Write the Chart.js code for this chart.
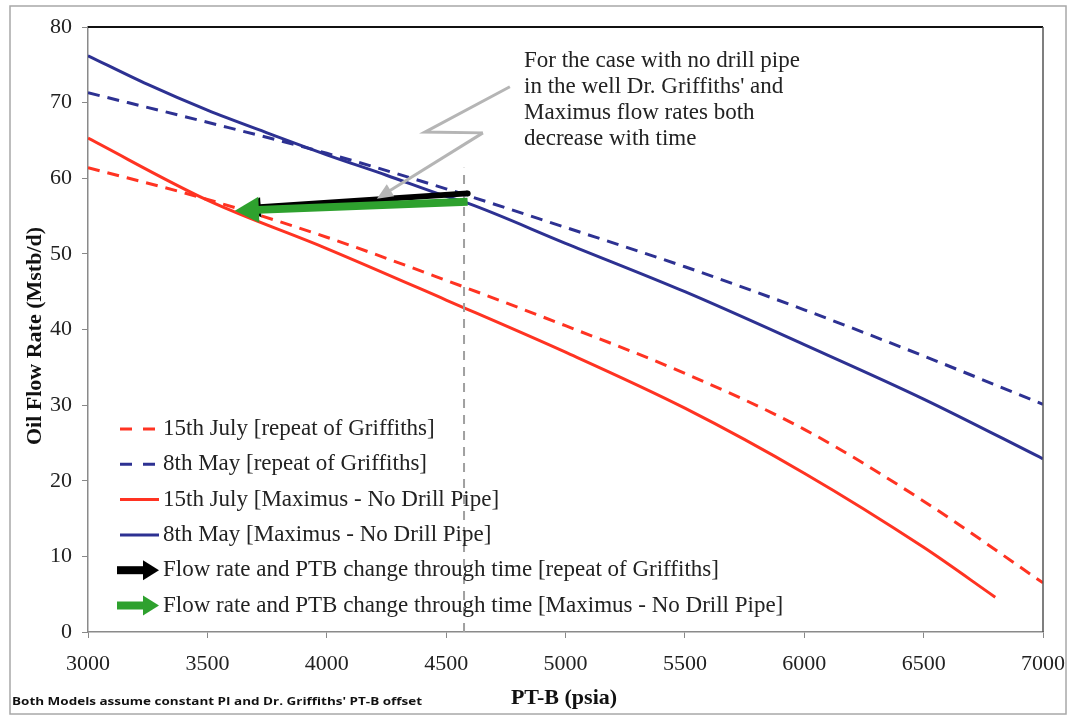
<!DOCTYPE html>
<html><head><meta charset="utf-8">
<script src="https://cdn.jsdelivr.net/npm/chart.js@4/dist/chart.umd.min.js"></script>
<style>html,body{margin:0;padding:0;background:#fff;}#wrap{width:1072px;height:718px;}</style>
</head><body><div id="wrap"><canvas id="c" width="1072" height="718"></canvas></div>
<script>
// ---- data (PT-B psia vs oil flow rate Mstb/d) ----
const xTicks = [3000, 3500, 4000, 4500, 5000, 5500, 6000, 6500, 7000];
const yTicks = [0, 10, 20, 30, 40, 50, 60, 70, 80];

const julyGriffithsP = [3000, 3500, 4000, 4500, 5000, 5500, 6000, 6500, 7000];
const julyGriffithsQ = [61.4, 57.2, 52.2, 46.5, 40.5, 34.2, 26.8, 17.3, 6.5];

const mayGriffithsP = [3000, 3500, 4000, 4500, 5000, 5500, 6000, 6500, 7000];
const mayGriffithsQ = [71.3, 67.4, 63.3, 58.6, 53.5, 48.3, 42.6, 36.5, 30.1];

const julyMaximusP = [3000, 3500, 4000, 4500, 5000, 5500, 6000, 6500, 6800];
const julyMaximusQ = [65.3, 57.1, 50.7, 43.9, 37.0, 29.6, 21.0, 11.2, 4.6];

const mayMaximusP = [3000, 3250, 3500, 3750, 4000, 4250, 4500, 4590, 5000, 5500, 6000, 6500, 7000];
const mayMaximusQ = [76.2, 72.4, 69.0, 66.0, 63.1, 60.4, 57.6, 56.7, 51.4, 45.0, 38.0, 30.8, 22.9];

// change-through-time arrows: [from, to] as [psia, Mstb/d]
const arrowGriffiths = [[4590, 58.0], [3640, 56.0]];
const arrowMaximus = [[4590, 56.9], [3615, 55.7]];
const ptbLine = { x: 4575, top: 61.4 };
const calloutPath = [[4767, 72.1], [4411, 66.1], [4654, 66.0], [4210, 57.3]];

const legendLabels = [
  "15th July [repeat of Griffiths]",
  "8th May [repeat of Griffiths]",
  "15th July [Maximus - No Drill Pipe]",
  "8th May [Maximus - No Drill Pipe]",
  "Flow rate and PTB change through time [repeat of Griffiths]",
  "Flow rate and PTB change through time [Maximus - No Drill Pipe]"
];
const calloutText = [
  "For the case with no drill pipe",
  "in the well Dr. Griffiths' and",
  "Maximus flow rates both",
  "decrease with time"
];
const yTitle = "Oil Flow Rate (Mstb/d)";
const xTitle = "PT-B (psia)";
const footnote = "Both Models assume constant PI and Dr. Griffiths' PT-B offset";

// ---- styling ----
const RED = "#ff3322", BLUE = "#2d3192", GREEN = "#2ea12e", BLACK = "#000";
const SERIF = "'Liberation Serif', 'DejaVu Serif', serif";
const pts = (p, q) => p.map((v, i) => ({ x: v, y: q[i] }));

function arrow(ctx, x1, y1, x2, y2, w, hl, hw, color) {
  const a = Math.atan2(y2 - y1, x2 - x1);
  const bx = x2 - hl * Math.cos(a), by = y2 - hl * Math.sin(a);
  ctx.save();
  ctx.strokeStyle = color; ctx.fillStyle = color; ctx.lineWidth = w; ctx.lineCap = 'butt';
  ctx.beginPath(); ctx.moveTo(x1, y1); ctx.lineTo(bx + Math.cos(a), by + Math.sin(a)); ctx.stroke();
  ctx.beginPath(); ctx.moveTo(x2, y2);
  ctx.lineTo(bx + hw / 2 * Math.sin(a), by - hw / 2 * Math.cos(a));
  ctx.lineTo(bx - hw / 2 * Math.sin(a), by + hw / 2 * Math.cos(a));
  ctx.closePath(); ctx.fill();
  ctx.restore();
}

const deco = {
  id: 'deco',
  beforeDraw(chart) {
    const ctx = chart.ctx;
    ctx.save();
    ctx.fillStyle = '#fff'; ctx.fillRect(0, 0, chart.width, chart.height);
    ctx.strokeStyle = '#a8a8a8'; ctx.lineWidth = 1.5;
    ctx.strokeRect(10, 6, 1056, 708);
    ctx.restore();
  },
  afterDatasetsDraw(chart) {
    const ctx = chart.ctx, xs = chart.scales.x, ys = chart.scales.y, ca = chart.chartArea;
    const X = v => xs.getPixelForValue(v), Y = v => ys.getPixelForValue(v);
    ctx.save();
    // top & right frame
    ctx.strokeStyle = '#111'; ctx.lineWidth = 2;
    ctx.beginPath(); ctx.moveTo(ca.left, ca.top); ctx.lineTo(ca.right, ca.top); ctx.stroke();
    ctx.strokeStyle = '#555'; ctx.lineWidth = 1.5;
    ctx.beginPath(); ctx.moveTo(ca.right, ca.top); ctx.lineTo(ca.right, ca.bottom); ctx.stroke();
    // vertical PT-B dashed line
    ctx.strokeStyle = '#a0a0a0'; ctx.lineWidth = 2; ctx.setLineDash([9, 7]);
    ctx.beginPath(); ctx.moveTo(X(ptbLine.x), Y(0)); ctx.lineTo(X(ptbLine.x), Y(ptbLine.top)); ctx.stroke();
    ctx.setLineDash([]);
    // time arrows
    arrow(ctx, X(arrowGriffiths[0][0]), Y(arrowGriffiths[0][1]), X(arrowGriffiths[1][0]), Y(arrowGriffiths[1][1]), 6, 20, 20, BLACK);
    ctx.fillStyle = BLACK; ctx.beginPath(); ctx.arc(X(arrowGriffiths[0][0]), Y(arrowGriffiths[0][1]), 3, 0, Math.PI * 2); ctx.fill();
    arrow(ctx, X(arrowMaximus[0][0]), Y(arrowMaximus[0][1]), X(arrowMaximus[1][0]), Y(arrowMaximus[1][1]), 8, 24, 26, GREEN);
    // callout
    ctx.strokeStyle = '#b5b5b5'; ctx.lineWidth = 3; ctx.lineJoin = 'miter';
    ctx.beginPath();
    for (let i = 0; i < calloutPath.length - 1; i++) {
      const px = X(calloutPath[i][0]), py = Y(calloutPath[i][1]);
      i === 0 ? ctx.moveTo(px, py) : ctx.lineTo(px, py);
    }
    ctx.stroke();
    const n = calloutPath.length;
    arrow(ctx, X(calloutPath[n - 2][0]), Y(calloutPath[n - 2][1]), X(calloutPath[n - 1][0]), Y(calloutPath[n - 1][1]), 3, 16, 14, '#b5b5b5');
    // callout text
    ctx.fillStyle = '#222'; ctx.font = '23px ' + SERIF; ctx.textBaseline = 'alphabetic'; ctx.textAlign = 'left';
    calloutText.forEach((t, i) => ctx.fillText(t, 524, 67 + i * 26));
    // legend
    const ly0 = 429, ldy = 35.3, lx = 163;
    legendLabels.forEach((t, i) => {
      const y = ly0 + i * ldy;
      ctx.lineWidth = 3;
      if (i === 0 || i === 1) {
        ctx.strokeStyle = i === 0 ? RED : BLUE;
        ctx.beginPath(); ctx.moveTo(120, y); ctx.lineTo(132, y); ctx.moveTo(143, y); ctx.lineTo(155, y); ctx.stroke();
      } else if (i === 2 || i === 3) {
        ctx.strokeStyle = i === 2 ? RED : BLUE;
        ctx.beginPath(); ctx.moveTo(120, y); ctx.lineTo(159, y); ctx.stroke();
      } else {
        arrow(ctx, 117, y, 159, y, 8, 16, 20, i === 4 ? BLACK : GREEN);
      }
      ctx.fillStyle = '#222'; ctx.font = '23px ' + SERIF; ctx.textBaseline = 'middle';
      ctx.fillText(t, lx, y);
    });
    // axis titles
    ctx.font = 'bold 22px ' + SERIF; ctx.textAlign = 'center'; ctx.textBaseline = 'middle'; ctx.fillStyle = '#111';
    ctx.fillText(xTitle, 564, 698);
    ctx.save(); ctx.translate(35, 336); ctx.rotate(-Math.PI / 2); ctx.fillText(yTitle, 0, 0); ctx.restore();
    // footnote
    ctx.font = "bold 11px 'Open Sans', 'DejaVu Sans', sans-serif"; ctx.textAlign = 'left'; ctx.fillStyle = '#111';
    const w = ctx.measureText(footnote).width;
    ctx.save(); ctx.translate(12, 702); ctx.scale(410 / w, 1); ctx.fillText(footnote, 0, 0); ctx.restore();
    ctx.restore();
  }
};

const ds = (label, p, q, color, dash) => ({
  label, data: pts(p, q), borderColor: color, borderWidth: 3, borderDash: dash || [],
  pointRadius: 0, showLine: true, fill: false, tension: 0.35, cubicInterpolationMode: 'monotone'
});

new Chart(document.getElementById('c'), {
  type: 'scatter',
  data: {
    datasets: [
      ds(legendLabels[1], mayGriffithsP, mayGriffithsQ, BLUE, [12, 8]),
      ds(legendLabels[3], mayMaximusP, mayMaximusQ, BLUE),
      ds(legendLabels[0], julyGriffithsP, julyGriffithsQ, RED, [12, 8]),
      ds(legendLabels[2], julyMaximusP, julyMaximusQ, RED)
    ]
  },
  options: {
    responsive: false, animation: false, devicePixelRatio: 1,
    layout: { padding: { left: 0, top: 27, right: 29, bottom: 0 } },
    plugins: { legend: { display: false }, tooltip: { enabled: false } },
    scales: {
      x: {
        type: 'linear', min: 3000, max: 7000,
        afterFit: s => { s.height = 86; s.paddingLeft = 0; s.paddingRight = 0; },
        afterBuildTicks: s => { s.ticks = xTicks.map(v => ({ value: v })); },
        ticks: { font: { family: SERIF, size: 22 }, color: '#222', padding: 13, maxRotation: 0, callback: v => String(v) },
        grid: { drawOnChartArea: false, drawTicks: true, tickLength: 6, color: '#888' },
        border: { color: '#8a8a8a', width: 1.5 }
      },
      y: {
        min: 0, max: 80,
        afterFit: s => { s.width = 88; s.paddingTop = 0; s.paddingBottom = 0; },
        afterBuildTicks: s => { s.ticks = yTicks.map(v => ({ value: v })); },
        ticks: { font: { family: SERIF, size: 22 }, color: '#222', padding: 10, callback: v => String(v) },
        grid: { drawOnChartArea: false, drawTicks: true, tickLength: 6, color: '#888' },
        border: { color: '#8a8a8a', width: 1.5 }
      }
    }
  },
  plugins: [deco]
});
</script></body></html>
